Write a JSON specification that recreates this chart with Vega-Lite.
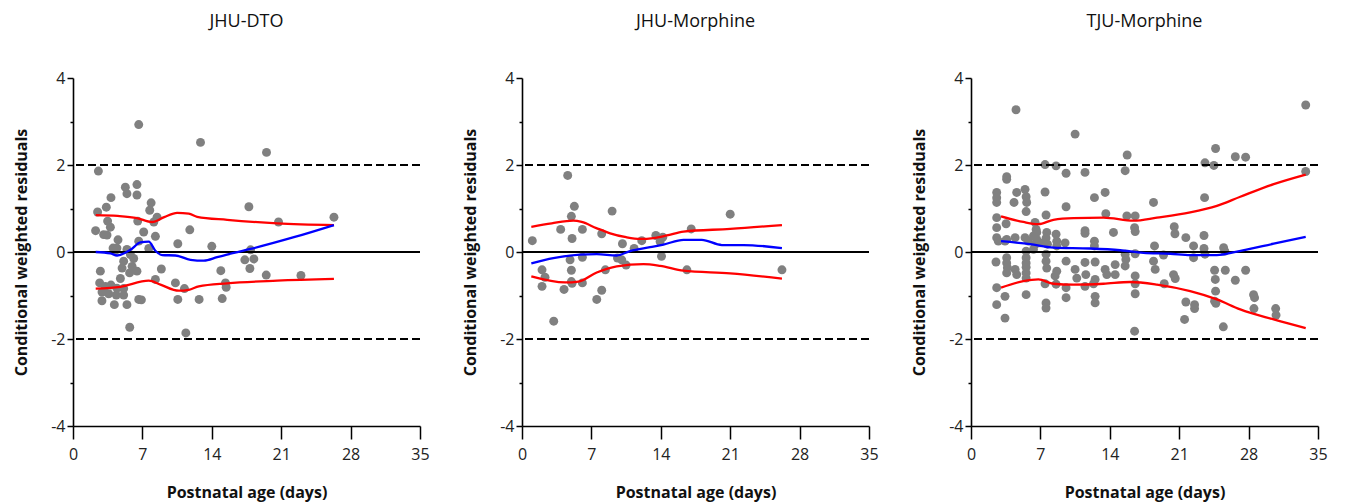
{
"$schema": "https://vega.github.io/schema/vega-lite/v6.json",
"padding": {"left": 13, "top": 13, "right": 5, "bottom": 5},
"spacing": 102,
"bounds": "flush",
"config": {
  "view": {"stroke": null},
  "font": "Open Sans",
  "axis": {"grid": false, "domainColor": "#000", "domainWidth": 1.6, "tickColor": "#000", "tickWidth": 1.5, "labelFontSize": 16, "labelColor": "#222", "titleFontSize": 16, "titleFontWeight": "bold", "titleColor": "#111", "labelFont": "Open Sans", "titleFont": "Open Sans"},
  "title": {"fontSize": 18, "fontWeight": "normal", "offset": 39, "color": "#111", "anchor": "middle", "font": "Open Sans"}
},
"datasets": {
  "dto": [
    {"age":6.63,"cwres":2.93},{"age":12.86,"cwres":2.52},{"age":19.52,"cwres":2.29},{"age":2.56,"cwres":1.86},{"age":5.28,"cwres":1.49},{"age":5.44,"cwres":1.34},{"age":6.45,"cwres":1.55},{"age":6.45,"cwres":1.31},{"age":3.83,"cwres":1.25},{"age":3.36,"cwres":1.03},{"age":2.48,"cwres":0.92},{"age":7.88,"cwres":1.13},{"age":7.74,"cwres":0.96},{"age":8.48,"cwres":0.8},{"age":8.15,"cwres":0.69},{"age":6.53,"cwres":0.71},{"age":3.49,"cwres":0.71},{"age":3.77,"cwres":0.57},{"age":2.28,"cwres":0.49},{"age":3.09,"cwres":0.4},{"age":3.43,"cwres":0.39},{"age":7.13,"cwres":0.46},{"age":8.31,"cwres":0.36},{"age":11.78,"cwres":0.51},{"age":17.74,"cwres":1.04},{"age":20.73,"cwres":0.69},{"age":26.32,"cwres":0.8},{"age":4.54,"cwres":0.28},{"age":6.63,"cwres":0.25},{"age":10.57,"cwres":0.19},{"age":14.0,"cwres":0.13},{"age":7.64,"cwres":0.08},{"age":4.04,"cwres":0.09},{"age":4.26,"cwres":0.03},{"age":4.43,"cwres":0.09},{"age":5.44,"cwres":0.06},{"age":5.79,"cwres":-0.06},{"age":6.12,"cwres":-0.15},{"age":5.11,"cwres":-0.21},{"age":5.96,"cwres":-0.33},{"age":4.95,"cwres":-0.37},{"age":6.45,"cwres":-0.44},{"age":5.71,"cwres":-0.48},{"age":8.91,"cwres":-0.39},{"age":17.91,"cwres":0.05},{"age":17.33,"cwres":-0.18},{"age":18.24,"cwres":-0.16},{"age":17.84,"cwres":-0.38},{"age":14.91,"cwres":-0.43},{"age":19.49,"cwres":-0.53},{"age":22.99,"cwres":-0.54},{"age":2.76,"cwres":-0.44},{"age":4.78,"cwres":-0.61},{"age":8.31,"cwres":-0.63},{"age":2.69,"cwres":-0.71},{"age":3.26,"cwres":-0.79},{"age":3.83,"cwres":-0.76},{"age":4.43,"cwres":-0.83},{"age":5.11,"cwres":-0.84},{"age":2.93,"cwres":-0.92},{"age":3.6,"cwres":-0.96},{"age":4.37,"cwres":-0.99},{"age":5.11,"cwres":-0.99},{"age":10.33,"cwres":-0.71},{"age":15.38,"cwres":-0.71},{"age":15.45,"cwres":-0.81},{"age":11.24,"cwres":-0.84},{"age":2.92,"cwres":-1.12},{"age":4.17,"cwres":-1.21},{"age":5.44,"cwres":-1.21},{"age":6.63,"cwres":-1.09},{"age":6.9,"cwres":-1.1},{"age":10.57,"cwres":-1.09},{"age":12.72,"cwres":-1.09},{"age":15.05,"cwres":-1.07},{"age":5.72,"cwres":-1.73},{"age":11.38,"cwres":-1.86}
  ],
  "dto_fit": [
    {"curve":"upper","age":2.29,"cwres":0.85},{"curve":"upper","age":4.5,"cwres":0.83},{"curve":"upper","age":6.46,"cwres":0.78},{"curve":"upper","age":7.98,"cwres":0.69},{"curve":"upper","age":9.2,"cwres":0.8},{"curve":"upper","age":10.5,"cwres":0.9},{"curve":"upper","age":11.68,"cwres":0.88},{"curve":"upper","age":12.52,"cwres":0.81},{"curve":"upper","age":15.55,"cwres":0.74},{"curve":"upper","age":20.6,"cwres":0.66},{"curve":"upper","age":26.32,"cwres":0.62},
    {"curve":"lower","age":2.29,"cwres":-0.84},{"curve":"lower","age":4.78,"cwres":-0.8},{"curve":"lower","age":7.64,"cwres":-0.66},{"curve":"lower","age":8.82,"cwres":-0.75},{"curve":"lower","age":10.67,"cwres":-0.89},{"curve":"lower","age":11.68,"cwres":-0.87},{"curve":"lower","age":12.69,"cwres":-0.79},{"curve":"lower","age":15.55,"cwres":-0.72},{"curve":"lower","age":20.6,"cwres":-0.66},{"curve":"lower","age":26.32,"cwres":-0.62},
    {"curve":"mean","age":2.29,"cwres":0.0},{"curve":"mean","age":3.77,"cwres":-0.03},{"curve":"mean","age":4.44,"cwres":-0.08},{"curve":"mean","age":5.79,"cwres":0.05},{"curve":"mean","age":6.8,"cwres":0.22},{"curve":"mean","age":7.64,"cwres":0.24},{"curve":"mean","age":8.31,"cwres":0.03},{"curve":"mean","age":8.99,"cwres":-0.07},{"curve":"mean","age":10.33,"cwres":-0.08},{"curve":"mean","age":11.85,"cwres":-0.18},{"curve":"mean","age":13.2,"cwres":-0.2},{"curve":"mean","age":14.54,"cwres":-0.12},{"curve":"mean","age":16.22,"cwres":-0.02},{"curve":"mean","age":17.9,"cwres":0.07},{"curve":"mean","age":22.28,"cwres":0.34},{"curve":"mean","age":26.32,"cwres":0.62}
  ],
  "jhu": [
    {"age":4.61,"cwres":1.76},{"age":5.28,"cwres":1.05},{"age":9.09,"cwres":0.94},{"age":4.98,"cwres":0.82},{"age":21.0,"cwres":0.87},{"age":1.04,"cwres":0.26},{"age":3.9,"cwres":0.52},{"age":5.05,"cwres":0.31},{"age":6.09,"cwres":0.52},{"age":8.04,"cwres":0.42},{"age":17.07,"cwres":0.53},{"age":13.5,"cwres":0.38},{"age":14.2,"cwres":0.34},{"age":13.93,"cwres":0.24},{"age":12.08,"cwres":0.26},{"age":10.13,"cwres":0.19},{"age":11.31,"cwres":0.08},{"age":6.09,"cwres":-0.12},{"age":4.85,"cwres":-0.18},{"age":9.63,"cwres":-0.14},{"age":10.06,"cwres":-0.18},{"age":10.5,"cwres":-0.3},{"age":14.07,"cwres":-0.1},{"age":2.02,"cwres":-0.41},{"age":2.32,"cwres":-0.58},{"age":2.02,"cwres":-0.79},{"age":4.98,"cwres":-0.42},{"age":8.41,"cwres":-0.41},{"age":16.63,"cwres":-0.41},{"age":26.22,"cwres":-0.41},{"age":4.98,"cwres":-0.68},{"age":5.05,"cwres":-0.72},{"age":6.09,"cwres":-0.71},{"age":4.24,"cwres":-0.86},{"age":8.04,"cwres":-0.88},{"age":7.54,"cwres":-1.09},{"age":3.2,"cwres":-1.59}
  ],
  "jhu_fit": [
    {"curve":"upper","age":0.94,"cwres":0.58},{"curve":"upper","age":3.0,"cwres":0.66},{"curve":"upper","age":5.18,"cwres":0.72},{"curve":"upper","age":6.02,"cwres":0.69},{"curve":"upper","age":7.5,"cwres":0.55},{"curve":"upper","age":8.89,"cwres":0.43},{"curve":"upper","age":10.5,"cwres":0.34},{"curve":"upper","age":11.92,"cwres":0.3},{"curve":"upper","age":13.26,"cwres":0.32},{"curve":"upper","age":14.61,"cwres":0.38},{"curve":"upper","age":16.29,"cwres":0.47},{"curve":"upper","age":21.0,"cwres":0.53},{"curve":"upper","age":26.22,"cwres":0.62},
    {"curve":"lower","age":0.94,"cwres":-0.56},{"curve":"lower","age":4.34,"cwres":-0.7},{"curve":"lower","age":5.69,"cwres":-0.68},{"curve":"lower","age":7.54,"cwres":-0.47},{"curve":"lower","age":9.56,"cwres":-0.33},{"curve":"lower","age":12.25,"cwres":-0.28},{"curve":"lower","age":13.93,"cwres":-0.32},{"curve":"lower","age":16.29,"cwres":-0.43},{"curve":"lower","age":21.0,"cwres":-0.49},{"curve":"lower","age":26.22,"cwres":-0.61},
    {"curve":"mean","age":0.94,"cwres":-0.26},{"curve":"mean","age":3.16,"cwres":-0.14},{"curve":"mean","age":5.86,"cwres":-0.06},{"curve":"mean","age":7.54,"cwres":-0.05},{"curve":"mean","age":9.56,"cwres":-0.08},{"curve":"mean","age":10.9,"cwres":0.02},{"curve":"mean","age":12.92,"cwres":0.11},{"curve":"mean","age":14.27,"cwres":0.17},{"curve":"mean","age":16.29,"cwres":0.28},{"curve":"mean","age":18.14,"cwres":0.28},{"curve":"mean","age":20.16,"cwres":0.16},{"curve":"mean","age":22.35,"cwres":0.16},{"curve":"mean","age":26.22,"cwres":0.09}
  ],
  "tju": [
    {"age":7.47,"cwres":2.01},{"age":8.58,"cwres":1.98},{"age":9.59,"cwres":1.81},{"age":3.6,"cwres":1.73},{"age":3.6,"cwres":1.67},{"age":2.59,"cwres":1.37},{"age":2.59,"cwres":1.25},{"age":2.59,"cwres":1.14},{"age":4.61,"cwres":1.37},{"age":5.45,"cwres":1.44},{"age":5.56,"cwres":1.27},{"age":5.62,"cwres":1.14},{"age":4.34,"cwres":1.14},{"age":7.47,"cwres":1.38},{"age":5.56,"cwres":0.93},{"age":9.59,"cwres":1.04},{"age":2.59,"cwres":0.79},{"age":7.57,"cwres":0.85},{"age":3.54,"cwres":0.65},{"age":6.46,"cwres":0.68},{"age":6.57,"cwres":0.52},{"age":6.63,"cwres":0.45},{"age":6.3,"cwres":0.37},{"age":2.59,"cwres":0.56},{"age":2.59,"cwres":0.33},{"age":2.76,"cwres":0.25},{"age":3.6,"cwres":0.29},{"age":3.43,"cwres":0.25},{"age":4.45,"cwres":0.33},{"age":5.45,"cwres":0.33},{"age":5.79,"cwres":0.25},{"age":6.63,"cwres":0.29},{"age":6.97,"cwres":0.21},{"age":6.46,"cwres":0.17},{"age":6.3,"cwres":0.06},{"age":7.64,"cwres":0.45},{"age":7.57,"cwres":0.32},{"age":7.71,"cwres":0.18},{"age":8.58,"cwres":0.41},{"age":8.65,"cwres":0.25},{"age":8.65,"cwres":0.14},{"age":9.49,"cwres":0.21},{"age":2.52,"cwres":-0.23},{"age":3.6,"cwres":-0.13},{"age":3.6,"cwres":-0.25},{"age":3.67,"cwres":-0.36},{"age":3.6,"cwres":-0.48},{"age":4.45,"cwres":-0.4},{"age":4.61,"cwres":-0.52},{"age":5.56,"cwres":0.02},{"age":5.56,"cwres":-0.13},{"age":5.56,"cwres":-0.25},{"age":5.56,"cwres":-0.35},{"age":5.56,"cwres":-0.48},{"age":5.56,"cwres":-0.6},{"age":7.57,"cwres":-0.05},{"age":7.57,"cwres":-0.21},{"age":7.64,"cwres":-0.37},{"age":8.65,"cwres":-0.44},{"age":8.48,"cwres":-0.55},{"age":9.59,"cwres":-0.21},{"age":7.47,"cwres":-0.73},{"age":8.58,"cwres":-0.74},{"age":9.59,"cwres":-0.82},{"age":2.59,"cwres":-0.82},{"age":3.43,"cwres":-1.02},{"age":5.56,"cwres":-0.98},{"age":2.59,"cwres":-1.21},{"age":7.57,"cwres":-1.17},{"age":7.57,"cwres":-1.29},{"age":9.59,"cwres":-1.05},{"age":3.43,"cwres":-1.52},{"age":4.54,"cwres":3.27},
    {"age":11.5,"cwres":1.83},{"age":15.55,"cwres":1.87},{"age":12.45,"cwres":1.25},{"age":13.53,"cwres":1.37},{"age":18.41,"cwres":1.14},{"age":13.6,"cwres":0.88},{"age":15.72,"cwres":0.83},{"age":16.56,"cwres":0.83},{"age":11.5,"cwres":0.49},{"age":11.5,"cwres":0.43},{"age":14.37,"cwres":0.45},{"age":16.5,"cwres":0.56},{"age":16.56,"cwres":0.47},{"age":12.45,"cwres":0.25},{"age":12.45,"cwres":0.14},{"age":18.51,"cwres":0.14},{"age":15.55,"cwres":-0.05},{"age":15.62,"cwres":-0.17},{"age":15.55,"cwres":-0.32},{"age":16.56,"cwres":-0.04},{"age":18.41,"cwres":-0.21},{"age":18.58,"cwres":-0.4},{"age":11.5,"cwres":-0.24},{"age":12.52,"cwres":-0.23},{"age":10.5,"cwres":-0.4},{"age":11.58,"cwres":-0.52},{"age":12.52,"cwres":-0.63},{"age":12.36,"cwres":-0.73},{"age":13.53,"cwres":-0.4},{"age":13.7,"cwres":-0.52},{"age":14.54,"cwres":-0.29},{"age":14.54,"cwres":-0.52},{"age":10.67,"cwres":-0.6},{"age":11.5,"cwres":-0.79},{"age":16.56,"cwres":-0.55},{"age":16.56,"cwres":-0.73},{"age":12.52,"cwres":-1.02},{"age":12.52,"cwres":-1.17},{"age":16.56,"cwres":-0.96},{"age":10.5,"cwres":2.71},{"age":15.75,"cwres":2.23},{"age":16.5,"cwres":-1.82},
    {"age":24.67,"cwres":2.38},{"age":23.6,"cwres":2.05},{"age":24.5,"cwres":1.99},{"age":26.66,"cwres":2.19},{"age":27.7,"cwres":2.18},{"age":33.76,"cwres":3.38},{"age":33.76,"cwres":1.85},{"age":23.56,"cwres":1.25},{"age":20.5,"cwres":0.58},{"age":20.57,"cwres":0.42},{"age":21.67,"cwres":0.33},{"age":23.5,"cwres":0.38},{"age":22.45,"cwres":0.14},{"age":23.5,"cwres":0.08},{"age":23.6,"cwres":-0.05},{"age":25.48,"cwres":0.1},{"age":25.6,"cwres":0.02},{"age":19.42,"cwres":-0.07},{"age":19.49,"cwres":-0.73},{"age":20.43,"cwres":-0.52},{"age":20.6,"cwres":-0.61},{"age":22.45,"cwres":-0.13},{"age":24.57,"cwres":-0.42},{"age":24.64,"cwres":-0.63},{"age":24.67,"cwres":-0.9},{"age":24.57,"cwres":-1.13},{"age":24.7,"cwres":-1.18},{"age":25.65,"cwres":-0.42},{"age":26.66,"cwres":-0.65},{"age":27.7,"cwres":-0.42},{"age":28.5,"cwres":-0.98},{"age":28.6,"cwres":-1.05},{"age":28.54,"cwres":-1.3},{"age":30.73,"cwres":-1.3},{"age":30.77,"cwres":-1.45},{"age":21.67,"cwres":-1.15},{"age":22.55,"cwres":-1.21},{"age":22.55,"cwres":-1.3},{"age":21.54,"cwres":-1.55},{"age":25.45,"cwres":-1.72}
  ],
  "tju_fit": [
    {"curve":"upper","age":3.03,"cwres":0.82},{"curve":"upper","age":5.28,"cwres":0.69},{"curve":"upper","age":6.8,"cwres":0.64},{"curve":"upper","age":8.31,"cwres":0.74},{"curve":"upper","age":10.33,"cwres":0.78},{"curve":"upper","age":13.36,"cwres":0.79},{"curve":"upper","age":16.39,"cwres":0.72},{"curve":"upper","age":18.75,"cwres":0.79},{"curve":"upper","age":22.11,"cwres":0.91},{"curve":"upper","age":24.8,"cwres":1.06},{"curve":"upper","age":27.16,"cwres":1.27},{"curve":"upper","age":30.53,"cwres":1.56},{"curve":"upper","age":33.76,"cwres":1.78},
    {"curve":"lower","age":3.03,"cwres":-0.82},{"curve":"lower","age":5.28,"cwres":-0.67},{"curve":"lower","age":6.8,"cwres":-0.63},{"curve":"lower","age":8.31,"cwres":-0.73},{"curve":"lower","age":10.33,"cwres":-0.75},{"curve":"lower","age":13.36,"cwres":-0.73},{"curve":"lower","age":16.05,"cwres":-0.69},{"curve":"lower","age":18.75,"cwres":-0.75},{"curve":"lower","age":22.11,"cwres":-0.9},{"curve":"lower","age":24.8,"cwres":-1.09},{"curve":"lower","age":27.16,"cwres":-1.32},{"curve":"lower","age":30.53,"cwres":-1.55},{"curve":"lower","age":33.76,"cwres":-1.75},
    {"curve":"mean","age":3.03,"cwres":0.25},{"curve":"mean","age":5.96,"cwres":0.18},{"curve":"mean","age":8.31,"cwres":0.1},{"curve":"mean","age":12.02,"cwres":0.08},{"curve":"mean","age":15.05,"cwres":0.04},{"curve":"mean","age":17.4,"cwres":-0.02},{"curve":"mean","age":20.1,"cwres":-0.04},{"curve":"mean","age":22.11,"cwres":-0.07},{"curve":"mean","age":24.8,"cwres":-0.07},{"curve":"mean","age":26.83,"cwres":0.01},{"curve":"mean","age":30.53,"cwres":0.19},{"curve":"mean","age":33.76,"cwres":0.35}
  ],
  "zero": [{"ref":0}],
  "bounds": [{"ref":2},{"ref":-2}]
},
"hconcat": [
  {
    "title": "JHU-DTO", "width": 347, "height": 348,
    "layer": [
      {"data":{"name":"dto"},"mark":{"type":"circle","color":"#808080","opacity":1,"size":80},
       "encoding":{
         "x":{"field":"age","type":"quantitative","scale":{"domain":[0,35],"nice":false,"zero":false},"axis":{"title":"Postnatal age (days)","values":[0,7,14,21,28,35],"tickSize":13,"labelPadding":7,"titlePadding":22,"labelFlush":false,"labelOverlap":false,"format":"d"}},
         "y":{"field":"cwres","type":"quantitative","scale":{"domain":[-4,4],"nice":false},"axis":{"title":"Conditional weighted residuals","values":[-4,-3,-2,-1,0,1,2,3,4],"tickSize":{"condition":{"test":"datum.value % 2 !== 0","value":3},"value":6},"labelExpr":"datum.value % 2 === 0 ? '' + datum.value : ''","labelPadding":2,"titlePadding":21,"labelOverlap":false}}}},
      {"data":{"name":"zero"},"mark":{"type":"rule","color":"#000","strokeWidth":2.2},"encoding":{"y":{"field":"ref","type":"quantitative","scale":{"domain":[-4,4],"nice":false},"axis":{"title":"Conditional weighted residuals","values":[-4,-3,-2,-1,0,1,2,3,4],"tickSize":{"condition":{"test":"datum.value % 2 !== 0","value":3},"value":6},"labelExpr":"datum.value % 2 === 0 ? '' + datum.value : ''","labelPadding":2,"titlePadding":21,"labelOverlap":false}}}},
      {"data":{"name":"bounds"},"mark":{"type":"rule","color":"#000","strokeWidth":2.2,"strokeDash":[8,4]},"encoding":{"y":{"field":"ref","type":"quantitative","scale":{"domain":[-4,4],"nice":false},"axis":{"title":"Conditional weighted residuals","values":[-4,-3,-2,-1,0,1,2,3,4],"tickSize":{"condition":{"test":"datum.value % 2 !== 0","value":3},"value":6},"labelExpr":"datum.value % 2 === 0 ? '' + datum.value : ''","labelPadding":2,"titlePadding":21,"labelOverlap":false}}}},
      {"data":{"name":"dto_fit"},"mark":{"type":"line","interpolate":"monotone"},
       "encoding":{
         "x":{"field":"age","type":"quantitative","scale":{"domain":[0,35],"nice":false,"zero":false},"axis":{"title":"Postnatal age (days)","values":[0,7,14,21,28,35],"tickSize":13,"labelPadding":7,"titlePadding":22,"labelFlush":false,"labelOverlap":false,"format":"d"}},
         "y":{"field":"cwres","type":"quantitative","scale":{"domain":[-4,4],"nice":false},"axis":{"title":"Conditional weighted residuals","values":[-4,-3,-2,-1,0,1,2,3,4],"tickSize":{"condition":{"test":"datum.value % 2 !== 0","value":3},"value":6},"labelExpr":"datum.value % 2 === 0 ? '' + datum.value : ''","labelPadding":2,"titlePadding":21,"labelOverlap":false}},
         "detail":{"field":"curve","type":"nominal"},
         "color":{"field":"curve","type":"nominal","scale":{"domain":["upper","lower","mean"],"range":["#ff0000","#ff0000","#0000ff"]},"legend":null},
         "strokeWidth":{"field":"curve","type":"nominal","scale":{"domain":["upper","lower","mean"],"range":[2.3,2.3,1.2]},"legend":null}}}
    ]
  },
  {
    "title": "JHU-Morphine", "width": 347, "height": 348,
    "layer": [
      {"data":{"name":"jhu"},"mark":{"type":"circle","color":"#808080","opacity":1,"size":80},
       "encoding":{
         "x":{"field":"age","type":"quantitative","scale":{"domain":[0,35],"nice":false,"zero":false},"axis":{"title":"Postnatal age (days)","values":[0,7,14,21,28,35],"tickSize":13,"labelPadding":7,"titlePadding":22,"labelFlush":false,"labelOverlap":false,"format":"d"}},
         "y":{"field":"cwres","type":"quantitative","scale":{"domain":[-4,4],"nice":false},"axis":{"title":"Conditional weighted residuals","values":[-4,-3,-2,-1,0,1,2,3,4],"tickSize":{"condition":{"test":"datum.value % 2 !== 0","value":3},"value":6},"labelExpr":"datum.value % 2 === 0 ? '' + datum.value : ''","labelPadding":2,"titlePadding":21,"labelOverlap":false}}}},
      {"data":{"name":"zero"},"mark":{"type":"rule","color":"#000","strokeWidth":2.2},"encoding":{"y":{"field":"ref","type":"quantitative","scale":{"domain":[-4,4],"nice":false},"axis":{"title":"Conditional weighted residuals","values":[-4,-3,-2,-1,0,1,2,3,4],"tickSize":{"condition":{"test":"datum.value % 2 !== 0","value":3},"value":6},"labelExpr":"datum.value % 2 === 0 ? '' + datum.value : ''","labelPadding":2,"titlePadding":21,"labelOverlap":false}}}},
      {"data":{"name":"bounds"},"mark":{"type":"rule","color":"#000","strokeWidth":2.2,"strokeDash":[8,4]},"encoding":{"y":{"field":"ref","type":"quantitative","scale":{"domain":[-4,4],"nice":false},"axis":{"title":"Conditional weighted residuals","values":[-4,-3,-2,-1,0,1,2,3,4],"tickSize":{"condition":{"test":"datum.value % 2 !== 0","value":3},"value":6},"labelExpr":"datum.value % 2 === 0 ? '' + datum.value : ''","labelPadding":2,"titlePadding":21,"labelOverlap":false}}}},
      {"data":{"name":"jhu_fit"},"mark":{"type":"line","interpolate":"monotone"},
       "encoding":{
         "x":{"field":"age","type":"quantitative","scale":{"domain":[0,35],"nice":false,"zero":false},"axis":{"title":"Postnatal age (days)","values":[0,7,14,21,28,35],"tickSize":13,"labelPadding":7,"titlePadding":22,"labelFlush":false,"labelOverlap":false,"format":"d"}},
         "y":{"field":"cwres","type":"quantitative","scale":{"domain":[-4,4],"nice":false},"axis":{"title":"Conditional weighted residuals","values":[-4,-3,-2,-1,0,1,2,3,4],"tickSize":{"condition":{"test":"datum.value % 2 !== 0","value":3},"value":6},"labelExpr":"datum.value % 2 === 0 ? '' + datum.value : ''","labelPadding":2,"titlePadding":21,"labelOverlap":false}},
         "detail":{"field":"curve","type":"nominal"},
         "color":{"field":"curve","type":"nominal","scale":{"domain":["upper","lower","mean"],"range":["#ff0000","#ff0000","#0000ff"]},"legend":null},
         "strokeWidth":{"field":"curve","type":"nominal","scale":{"domain":["upper","lower","mean"],"range":[2.3,2.3,1.2]},"legend":null}}}
    ]
  },
  {
    "title": "TJU-Morphine", "width": 347, "height": 348,
    "layer": [
      {"data":{"name":"tju"},"mark":{"type":"circle","color":"#808080","opacity":1,"size":80},
       "encoding":{
         "x":{"field":"age","type":"quantitative","scale":{"domain":[0,35],"nice":false,"zero":false},"axis":{"title":"Postnatal age (days)","values":[0,7,14,21,28,35],"tickSize":13,"labelPadding":7,"titlePadding":22,"labelFlush":false,"labelOverlap":false,"format":"d"}},
         "y":{"field":"cwres","type":"quantitative","scale":{"domain":[-4,4],"nice":false},"axis":{"title":"Conditional weighted residuals","values":[-4,-3,-2,-1,0,1,2,3,4],"tickSize":{"condition":{"test":"datum.value % 2 !== 0","value":3},"value":6},"labelExpr":"datum.value % 2 === 0 ? '' + datum.value : ''","labelPadding":2,"titlePadding":21,"labelOverlap":false}}}},
      {"data":{"name":"zero"},"mark":{"type":"rule","color":"#000","strokeWidth":2.2},"encoding":{"y":{"field":"ref","type":"quantitative","scale":{"domain":[-4,4],"nice":false},"axis":{"title":"Conditional weighted residuals","values":[-4,-3,-2,-1,0,1,2,3,4],"tickSize":{"condition":{"test":"datum.value % 2 !== 0","value":3},"value":6},"labelExpr":"datum.value % 2 === 0 ? '' + datum.value : ''","labelPadding":2,"titlePadding":21,"labelOverlap":false}}}},
      {"data":{"name":"bounds"},"mark":{"type":"rule","color":"#000","strokeWidth":2.2,"strokeDash":[8,4]},"encoding":{"y":{"field":"ref","type":"quantitative","scale":{"domain":[-4,4],"nice":false},"axis":{"title":"Conditional weighted residuals","values":[-4,-3,-2,-1,0,1,2,3,4],"tickSize":{"condition":{"test":"datum.value % 2 !== 0","value":3},"value":6},"labelExpr":"datum.value % 2 === 0 ? '' + datum.value : ''","labelPadding":2,"titlePadding":21,"labelOverlap":false}}}},
      {"data":{"name":"tju_fit"},"mark":{"type":"line","interpolate":"monotone"},
       "encoding":{
         "x":{"field":"age","type":"quantitative","scale":{"domain":[0,35],"nice":false,"zero":false},"axis":{"title":"Postnatal age (days)","values":[0,7,14,21,28,35],"tickSize":13,"labelPadding":7,"titlePadding":22,"labelFlush":false,"labelOverlap":false,"format":"d"}},
         "y":{"field":"cwres","type":"quantitative","scale":{"domain":[-4,4],"nice":false},"axis":{"title":"Conditional weighted residuals","values":[-4,-3,-2,-1,0,1,2,3,4],"tickSize":{"condition":{"test":"datum.value % 2 !== 0","value":3},"value":6},"labelExpr":"datum.value % 2 === 0 ? '' + datum.value : ''","labelPadding":2,"titlePadding":21,"labelOverlap":false}},
         "detail":{"field":"curve","type":"nominal"},
         "color":{"field":"curve","type":"nominal","scale":{"domain":["upper","lower","mean"],"range":["#ff0000","#ff0000","#0000ff"]},"legend":null},
         "strokeWidth":{"field":"curve","type":"nominal","scale":{"domain":["upper","lower","mean"],"range":[2.3,2.3,1.2]},"legend":null}}}
    ]
  }
]
}
